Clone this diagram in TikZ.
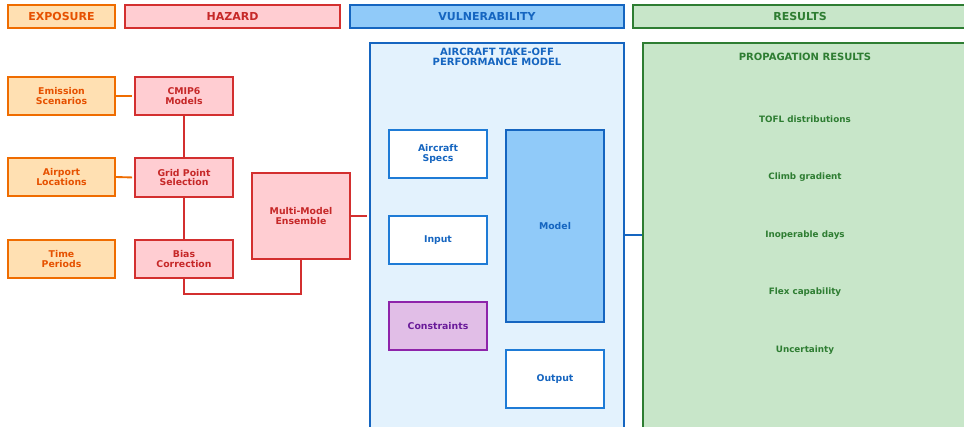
\documentclass[tikz,border=0pt]{standalone}
\usepackage{fontspec}
\setmainfont{DejaVu Sans}
\usetikzlibrary{calc}
\definecolor{orgline}{HTML}{EF6C00}
\definecolor{orgtext}{HTML}{E65100}
\definecolor{orgfill}{HTML}{FFE0B2}
\definecolor{redline}{HTML}{D32F2F}
\definecolor{redtext}{HTML}{C62828}
\definecolor{redfill}{HTML}{FFCDD2}
\definecolor{blueline}{HTML}{1565C0}
\definecolor{bluelite}{HTML}{1E7BD6}
\definecolor{bluefill}{HTML}{90CAF9}
\definecolor{bluepale}{HTML}{E3F2FD}
\definecolor{purline}{HTML}{8E24AA}
\definecolor{purtext}{HTML}{6A1B9A}
\definecolor{purfill}{HTML}{E1BEE7}
\definecolor{grnline}{HTML}{2E7D32}
\definecolor{grnfill}{HTML}{C8E6C9}
\tikzset{
  sz/.style 2 args={minimum width=#1*0.75pt, minimum height=#2*0.75pt},
  base/.style={rectangle, inner sep=0pt, align=center, font=\fontsize{7pt}{7.1pt}\selectfont\bfseries},
  header/.style={base, line width=1.5pt, font=\fontsize{8.25pt}{9pt}\selectfont\bfseries},
  expbox/.style={base, draw=orgline, fill=orgfill, text=orgtext, line width=1.3pt},
  hazbox/.style={base, draw=redline, fill=redfill, text=redtext, line width=1.3pt},
  vulbox/.style={base, draw=bluelite, fill=white, text=blueline, line width=1.1pt},
  redlink/.style={draw=redline, line width=1.4pt},
  bluelink/.style={draw=blueline, line width=1.2pt},
  restext/.style={text=grnline, font=\fontsize{6.6pt}{7pt}\selectfont\bfseries},
}
\begin{document}
\begin{tikzpicture}[x=0.75pt, y=-0.75pt]
\useasboundingbox (0,0) rectangle (964,426);
\clip (0,0) rectangle (964,426);

% column headers
\node[header, draw=orgline, fill=orgfill, text=orgtext, sz={107}{23}] (hexp) at (61.5,16.5) {EXPOSURE};
\node[header, draw=redline, fill=redfill, text=redtext, sz={215}{23}] (hhaz) at (232.5,16.5) {HAZARD};
\node[header, draw=blueline, fill=bluefill, text=blueline, sz={274}{23}] (hvul) at (487,16.5) {VULNERABILITY};
\node[header, draw=grnline, fill=grnfill, text=grnline, sz={334}{23}] (hres) at (800,16.5) {RESULTS};

% exposure inputs
\node[expbox, sz={107}{38}] (emis) at (61.5,96) {Emission\\Scenarios};
\node[expbox, sz={107}{38}] (airp) at (61.5,177) {Airport\\Locations};
\node[expbox, sz={107}{38}] (time) at (61.5,259) {Time\\Periods};

% hazard chain
\node[hazbox, sz={98}{38}] (cmip) at (184,96) {CMIP6\\Models};
\node[hazbox, sz={98}{39}] (grid) at (184,177.5) {Grid Point\\Selection};
\node[hazbox, sz={98}{38}] (bias) at (184,259) {Bias\\Correction};
\node[hazbox, sz={98}{86}] (ens) at (301,216) {Multi-Model\\Ensemble};

% vulnerability model
\node[rectangle, draw=blueline, fill=bluepale, line width=1.6pt, sz={254}{400}] (vbox) at (497,243) {};
\node[text=blueline, align=center, font=\fontsize{7.5pt}{7.6pt}\selectfont\bfseries] (vtitle) at (497,56.5) {AIRCRAFT TAKE-OFF\\PERFORMANCE MODEL};
\node[vulbox, sz={98}{48}] (spec) at (438,154) {Aircraft\\Specs};
\node[vulbox, sz={98}{48}] (inp) at (438,240) {Input};
\node[base, draw=purline, fill=purfill, text=purtext, line width=1.1pt, sz={98}{48}] (cons) at (438,326) {Constraints};
\node[base, draw=blueline, fill=bluefill, text=blueline, line width=1.1pt, sz={98}{192}] (model) at (555,226) {Model};
\node[vulbox, sz={98}{58}] (out) at (555,379) {Output};

% results panel
\node[rectangle, draw=grnline, fill=grnfill, line width=1.6pt, sz={324}{400}] (rbox) at (805,243) {};
\node[text=grnline, font=\fontsize{7.5pt}{8pt}\selectfont\bfseries] (rtitle) at (805,57) {PROPAGATION RESULTS};
\node[restext] (r1) at (805,119) {TOFL distributions};
\node[restext] (r2) at (805,177) {Climb gradient};
\node[restext] (r3) at (805,235) {Inoperable days};
\node[restext] (r4) at (805,292) {Flex capability};
\node[restext] (r5) at (805,350) {Uncertainty};

% connectors
\draw[draw=orgline, line width=1.4pt, shorten >=1.5pt] (emis.east) -- (cmip.west);
\draw[draw=orgline, line width=1.4pt, shorten >=1.5pt] (airp.east) -- (grid.west);
\draw[redlink] (cmip.south) -- (grid.north);
\draw[redlink] (grid.south) -- (bias.north);
\draw[redlink] (bias.south) -- ++(0,15) -| (ens.south);
\draw[redlink, shorten >=1.5pt] (ens.east) -- (ens.east -| vbox.west);
\coordinate (vlink) at (0,235);
\draw[bluelink] (vbox.east |- vlink) -- (rbox.west |- vlink);
\end{tikzpicture}
\end{document}
